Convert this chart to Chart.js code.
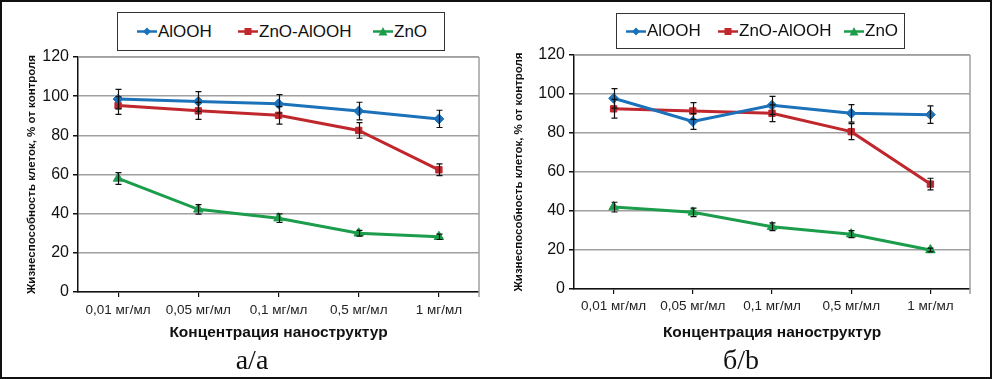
<!DOCTYPE html>
<html>
<head>
<meta charset="utf-8">
<script src="https://cdn.jsdelivr.net/npm/chart.js@4/dist/chart.umd.min.js"></script>
<style>
  html, body { margin: 0; padding: 0; background: #fff; }
  #wrap { position: relative; width: 992px; height: 379px; overflow: hidden; background: #fff; }
  #frame { position: absolute; left: 0; top: 0; width: 988px; height: 375px; border: 2px solid #111; }
  .panel { position: absolute; top: 0; width: 496px; height: 379px; }
  .legend { position: absolute; border: 1.5px solid #333; background: #fff; box-sizing: border-box;
            font-family: "Liberation Sans", Arial, sans-serif; font-size: 17px; color: #111; }
  .item { position: absolute; top: 0; height: 100%; display: flex; align-items: center; white-space: nowrap; }
  .item svg { margin-right: 1px; }
  .cap { position: absolute; font-family: "Liberation Serif", "Times New Roman", serif; font-size: 28px; color: #111;
         transform: translateX(-50%); white-space: nowrap; line-height: 1; }
</style>
</head>
<body>
<div id="wrap">
  <div class="panel" style="left:0"><canvas id="ca" width="496" height="379"></canvas></div>
  <div class="panel" style="left:496px"><canvas id="cb" width="496" height="379"></canvas></div>
  <div id="legA" class="legend" style="left:117px; top:12px; width:328px; height:39px;"></div>
  <div id="legB" class="legend" style="left:616px; top:13px; width:289px; height:36px;"></div>
  <div class="cap" style="left:252px; top:346px;">а/а</div>
  <div class="cap" style="left:741px; top:346px;">б/b</div>
  <div id="frame"></div>
</div>
<script>
// ---- data ----
const categories = ["0,01 мг/мл", "0,05 мг/мл", "0,1 мг/мл", "0,5 мг/мл", "1 мг/мл"];
const seriesNames = ["AlOOH", "ZnO-AlOOH", "ZnO"];
const yTicks = [0, 20, 40, 60, 80, 100, 120];

// panel а
const a_AlOOH     = [98.5, 97.3, 96.1, 92.4, 88.4];
const a_AlOOH_err = [5.0, 5.0, 4.7, 4.5, 4.4];
const a_ZnOAlOOH     = [95.2, 92.5, 90.2, 82.5, 62.4];
const a_ZnOAlOOH_err = [4.5, 4.3, 4.5, 4.0, 3.0];
const a_ZnO     = [58.0, 42.2, 37.7, 30.0, 28.2];
const a_ZnO_err = [3.0, 2.4, 2.2, 1.5, 1.4];

// panel б
const b_AlOOH     = [97.8, 85.9, 94.2, 90.1, 89.4];
const b_AlOOH_err = [5.0, 4.0, 4.6, 4.5, 4.5];
const b_ZnOAlOOH     = [92.4, 91.3, 90.1, 80.7, 53.8];
const b_ZnOAlOOH_err = [4.8, 4.3, 4.3, 4.1, 3.0];
const b_ZnO     = [42.0, 39.3, 31.9, 28.1, 20.0];
const b_ZnO_err = [2.5, 2.2, 2.0, 1.8, 1.0];

const yTitle = "Жизнеспособность клеток, % от контроля";
const xTitle = "Концентрация наноструктур";

const colors = ["#1C72B9", "#C0272D", "#1C9D4B"];
const styles = ["rectRot", "rect", "triangle"];
const radii = [5, 4.5, 5.5];

const errorBars = {
  id: "errorBars",
  afterDatasetsDraw(chart, args, opts) {
    const ctx = chart.ctx, ys = chart.scales.y;
    ctx.save();
    ctx.strokeStyle = "#111";
    ctx.lineWidth = 1.2;
    chart.data.datasets.forEach((ds, i) => {
      const meta = chart.getDatasetMeta(i);
      ds.errors.forEach((e, j) => {
        const pt = meta.data[j];
        const x = Math.round(pt.x) + 0.5;
        const y1 = ys.getPixelForValue(ds.data[j] + e);
        const y2 = ys.getPixelForValue(ds.data[j] - e);
        ctx.beginPath();
        ctx.moveTo(x, y1); ctx.lineTo(x, y2);
        ctx.moveTo(x - 3, y1); ctx.lineTo(x + 3, y1);
        ctx.moveTo(x - 3, y2); ctx.lineTo(x + 3, y2);
        ctx.stroke();
      });
    });
    ctx.restore();
  }
};

const frameLines = {
  id: "frameLines",
  beforeDatasetsDraw(chart) {
    const {ctx, chartArea: ca} = chart;
    ctx.save();
    ctx.strokeStyle = "#A0A0A0";
    ctx.lineWidth = 1.5;
    ctx.beginPath();
    ctx.moveTo(ca.left, ca.top); ctx.lineTo(ca.right, ca.top);
    ctx.moveTo(ca.right, ca.top); ctx.lineTo(ca.right, ca.bottom + 5);
    ctx.stroke();
    ctx.restore();
  }
};

function makeChart(id, vals, errs, p) {
  const datasets = vals.map((v, i) => ({
    label: seriesNames[i],
    data: v,
    errors: errs[i],
    borderColor: colors[i],
    backgroundColor: colors[i],
    borderWidth: 3,
    pointStyle: styles[i],
    pointRadius: radii[i],
    pointHoverRadius: radii[i],
    pointBorderWidth: 1,
    tension: 0,
    fill: false
  }));
  return new Chart(document.getElementById(id), {
    type: "line",
    data: { labels: categories, datasets },
    options: {
      responsive: false,
      animation: false,
      events: [],
      layout: { padding: p.padding },
      plugins: { legend: { display: false }, tooltip: { enabled: false } },
      scales: {
        x: {
          offset: true,
          afterFit: s => { s.height = p.xh; },
          grid: { drawOnChartArea: false, drawTicks: true, tickLength: 5, color: "#111", lineWidth: 1.2 },
          border: { color: "#111", width: 1.5 },
          ticks: { font: { family: "Liberation Sans", size: 13.5 }, color: "#222", padding: p.xtp, maxRotation: 0, autoSkip: false },
          title: { display: true, text: xTitle, color: "#111",
                   font: { family: "Liberation Sans", size: 15.5, weight: "bold" }, padding: { top: 0, bottom: p.xtb } }
        },
        y: {
          min: 0, max: 120,
          afterFit: s => { s.width = p.yw; },
          afterBuildTicks: s => { s.ticks = yTicks.map(v => ({ value: v })); },
          grid: { color: "#A0A0A0", lineWidth: 1.5, tickLength: 5, tickColor: "#111" },
          border: { color: "#111", width: 1.5 },
          ticks: { font: { family: "Liberation Sans", size: 16 }, color: "#111", padding: 4 },
          title: { display: true, text: yTitle, color: "#111",
                   font: { family: "Liberation Sans", size: 11.5, weight: "bold" }, padding: { top: p.ytp, bottom: 0 } }
        }
      }
    },
    plugins: [frameLines, errorBars]
  });
}

makeChart("ca",
  [a_AlOOH, a_ZnOAlOOH, a_ZnO], [a_AlOOH_err, a_ZnOAlOOH_err, a_ZnO_err],
  { padding: { left: 20, top: 57, right: 17, bottom: 32 }, yw: 58, ytp: 5, xh: 55, xtp: 5, xtb: 5 });
makeChart("cb",
  [b_AlOOH, b_ZnOAlOOH, b_ZnO], [b_AlOOH_err, b_ZnOAlOOH_err, b_ZnO_err],
  { padding: { left: 12, top: 55, right: 22, bottom: 34 }, yw: 66, ytp: 4, xh: 56, xtp: 4, xtb: 3 });

// ---- HTML legends ----
function markerSVG(i) {
  const c = colors[i];
  let shape;
  if (i === 0) shape = `<polygon points="10,1.5 14,5.5 10,9.5 6,5.5" fill="${c}"/>`;
  else if (i === 1) shape = `<rect x="6.5" y="2" width="7" height="7" fill="${c}"/>`;
  else shape = `<polygon points="10,1 14.5,9.5 5.5,9.5" fill="${c}"/>`;
  return `<svg width="20" height="11" viewBox="0 0 20 11"><line x1="0" y1="5.5" x2="20" y2="5.5" stroke="${c}" stroke-width="2.5"/>${shape}</svg>`;
}
function buildLegend(id, lefts) {
  const el = document.getElementById(id);
  seriesNames.forEach((n, i) => {
    const d = document.createElement("div");
    d.className = "item";
    d.style.left = lefts[i] + "px";
    d.innerHTML = markerSVG(i) + "<span>" + n + "</span>";
    el.appendChild(d);
  });
}
buildLegend("legA", [19, 120, 255]);
buildLegend("legB", [9, 101, 227]);
</script>
</body>
</html>
